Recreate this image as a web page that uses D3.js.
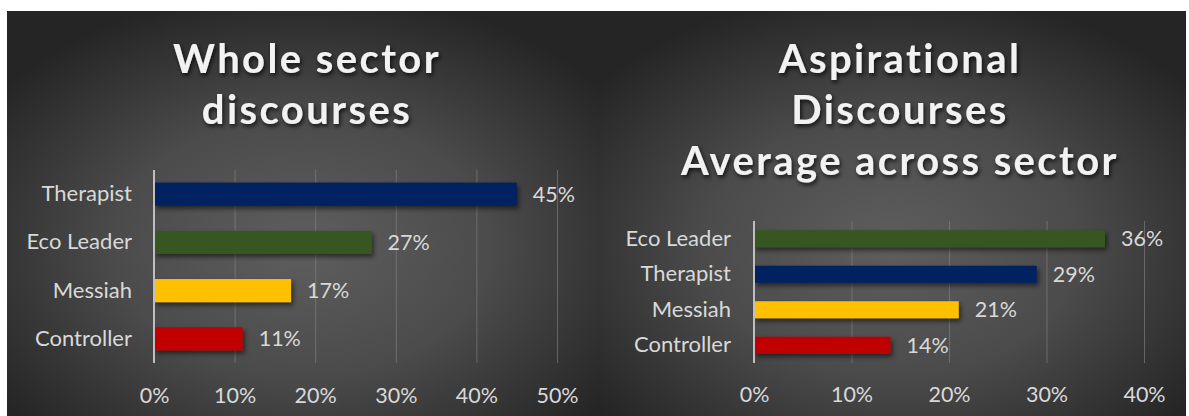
<!DOCTYPE html>
<html>
<head>
<meta charset="utf-8">
<script src="https://cdn.jsdelivr.net/npm/d3@7"></script>
<style>
  html, body { margin: 0; padding: 0; background: #fff; }
  svg { display: block; }
  text { font-family: Lato, "Open Sans", sans-serif; }
</style>
</head>
<body>
<svg id="chart" width="1189" height="416"></svg>
<script>
// ---- Data ----
const leftTitle = ["Whole sector", "discourses"];
const leftCategories = ["Therapist", "Eco Leader", "Messiah", "Controller"];
const leftValues = [0.45, 0.27, 0.17, 0.11];
const leftTicks = [0, 0.1, 0.2, 0.3, 0.4, 0.5];

const rightTitle = ["Aspirational", "Discourses", "Average across sector"];
const rightCategories = ["Eco Leader", "Therapist", "Messiah", "Controller"];
const rightValues = [0.36, 0.29, 0.21, 0.14];
const rightTicks = [0, 0.1, 0.2, 0.3, 0.4];

const categoryColors = {
  "Therapist": "#002060",
  "Eco Leader": "#375623",
  "Messiah": "#FFC000",
  "Controller": "#C00000"
};

// ---- Drawing ----
const svg = d3.select("#chart");
const defs = svg.append("defs");

const grad = defs.append("radialGradient")
  .attr("id", "bg").attr("cx", "50%").attr("cy", "58%").attr("r", "64%");
grad.append("stop").attr("offset", "0%").attr("stop-color", "#5e5e5e");
grad.append("stop").attr("offset", "50%").attr("stop-color", "#4b4b4b");
grad.append("stop").attr("offset", "100%").attr("stop-color", "#252525");

const barShadow = defs.append("filter").attr("id", "barShadow")
  .attr("x", "-10%").attr("y", "-30%").attr("width", "130%").attr("height", "190%");
barShadow.append("feDropShadow").attr("dx", 2).attr("dy", 3).attr("stdDeviation", 2.5)
  .attr("flood-color", "#000").attr("flood-opacity", 0.55);

const titleShadow = defs.append("filter").attr("id", "titleShadow")
  .attr("x", "-10%").attr("y", "-30%").attr("width", "130%").attr("height", "180%");
titleShadow.append("feDropShadow").attr("dx", 1.5).attr("dy", 2.5).attr("stdDeviation", 2)
  .attr("flood-color", "#000").attr("flood-opacity", 0.75);

function panel(cfg) {
  const g = svg.append("g");
  g.append("rect")
    .attr("x", cfg.px).attr("y", cfg.py).attr("width", cfg.pw).attr("height", cfg.ph)
    .attr("fill", "url(#bg)");

  // title
  const t = g.append("text")
    .attr("text-anchor", "middle")
    .attr("fill", "#f2f2f2")
    .attr("font-weight", 700)
    .attr("font-size", 40)
    .attr("letter-spacing", 2.4)
    .attr("filter", "url(#titleShadow)");
  cfg.title.forEach((line, i) => {
    t.append("tspan").attr("x", cfg.titleX).attr("y", cfg.titleY + i * cfg.titleStep).text(line);
  });

  const x = d3.scaleLinear().domain(cfg.domain).range(cfg.xRange);
  const y = d3.scaleBand().domain(cfg.categories).range(cfg.yRange).paddingInner(0.52).paddingOuter(0.26);

  // gridlines
  const grid = g.append("g")
    .attr("transform", `translate(0,${cfg.yRange[1]})`)
    .call(d3.axisBottom(x).tickValues(cfg.ticks).tickSize(-(cfg.yRange[1] - cfg.yRange[0])).tickFormat(""));
  grid.select(".domain").remove();
  grid.selectAll(".tick line").attr("stroke", "#858585").attr("stroke-opacity", 0.6).attr("stroke-width", 1);

  // tick labels
  const xl = g.append("g")
    .attr("transform", `translate(0,${cfg.tickLabelY})`)
    .call(d3.axisBottom(x).tickValues(cfg.ticks).tickSize(0).tickFormat(d3.format(".0%")));
  xl.select(".domain").remove();
  xl.selectAll("text").attr("fill", "#d9d9d9").attr("font-size", 21.5)
    .attr("font-family", "Lato, sans-serif").attr("dy", "0.35em").attr("y", 0);

  // bars
  g.selectAll("rect.bar")
    .data(cfg.categories.map((c, i) => ({ c, v: cfg.values[i] })))
    .join("rect")
    .attr("class", "bar")
    .attr("x", x(0))
    .attr("y", d => y(d.c))
    .attr("width", d => x(d.v) - x(0))
    .attr("height", y.bandwidth())
    .attr("fill", d => categoryColors[d.c])
    .attr("filter", "url(#barShadow)");

  // value labels
  g.selectAll("text.val")
    .data(cfg.categories.map((c, i) => ({ c, v: cfg.values[i] })))
    .join("text")
    .attr("class", "val")
    .attr("x", d => x(d.v) + 16)
    .attr("y", d => y(d.c) + y.bandwidth() / 2)
    .attr("dy", "0.35em")
    .attr("fill", "#d9d9d9")
    .attr("font-size", 21.5)
    .text(d => d3.format(".0%")(d.v));

  // category axis
  const yl = g.append("g")
    .attr("transform", `translate(${x(0)},0)`)
    .call(d3.axisLeft(y).tickSize(0).tickPadding(cfg.labelPad));
  yl.select(".domain").remove();
  yl.selectAll("text").attr("fill", "#d9d9d9").attr("font-size", 22).attr("font-family", "Lato, sans-serif");

  // vertical axis line
  g.append("line")
    .attr("x1", x(0)).attr("x2", x(0))
    .attr("y1", cfg.yRange[0]).attr("y2", cfg.yRange[1])
    .attr("stroke", "#bfbfbf").attr("stroke-width", 2);
}

panel({
  px: 7, py: 11, pw: 591, ph: 405,
  title: leftTitle, titleX: 307, titleY: 73, titleStep: 51,
  categories: leftCategories, values: leftValues, ticks: leftTicks,
  domain: [0, 0.5], xRange: [154, 557], yRange: [170, 363],
  tickLabelY: 395, labelPad: 22
});

panel({
  px: 598, py: 11, pw: 588, ph: 405,
  title: rightTitle, titleX: 900, titleY: 73, titleStep: 51,
  categories: rightCategories, values: rightValues, ticks: rightTicks,
  domain: [0, 0.4], xRange: [754, 1144], yRange: [221, 363],
  tickLabelY: 394, labelPad: 23
});
</script>
</body>
</html>
